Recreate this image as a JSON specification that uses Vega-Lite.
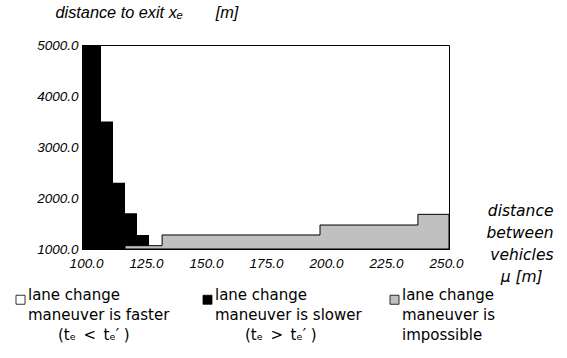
{
  "$schema": "https://vega.github.io/schema/vega-lite/v6.json",
  "width": 367,
  "height": 204,
  "autosize": {"type": "none"},
  "padding": {"left": 82, "top": 45, "right": 118, "bottom": 109},
  "background": "white",
  "config": {
    "view": {"stroke": "black", "strokeWidth": 1},
    "font": "Liberation Sans",
    "style": {"guide-label": {"lineHeight": 20}}
  },
  "datasets": {
    "steps": [
      {"mu": 98.33, "xe": 5000, "kind": "slower"},
      {"mu": 106.25, "xe": 3500, "kind": "slower"},
      {"mu": 111.25, "xe": 2300, "kind": "slower"},
      {"mu": 116.25, "xe": 1700, "kind": "slower"},
      {"mu": 121.25, "xe": 1275, "kind": "slower"},
      {"mu": 126.25, "xe": 1275, "kind": "slower"},
      {"mu": 116.25, "xe": 1065, "kind": "impossible"},
      {"mu": 131.7, "xe": 1275, "kind": "impossible"},
      {"mu": 197.5, "xe": 1470, "kind": "impossible"},
      {"mu": 238.3, "xe": 1680, "kind": "impossible"},
      {"mu": 251.25, "xe": 1680, "kind": "impossible"}
    ]
  },
  "layer": [
    {
      "data": {"name": "steps"},
      "transform": [{"filter": "datum.kind === 'slower'"}],
      "mark": {"type": "area", "interpolate": "step-after", "opacity": 1},
      "encoding": {
        "x": {
          "field": "mu", "type": "quantitative",
          "scale": {"domain": [98.33, 251.25], "nice": false, "zero": false},
          "axis": {
            "values": [100, 125, 150, 175, 200, 225, 250],
            "format": ".1f",
            "grid": false, "ticks": false,
            "domainColor": "black", "domainWidth": 1,
            "labelFont": "Liberation Sans", "labelFontStyle": "italic",
            "labelFontSize": 13.5, "labelColor": "black",
            "labelPadding": 7, "labelFlush": false, "labelOverlap": false,
            "title": ["distance", "between", "vehicles", "μ [m]\u2002\u2009\u200b"],
            "titleFont": "DejaVu Sans", "titleFontStyle": "italic",
            "titleFontWeight": "normal", "titleFontSize": 15.5, "titleColor": "black",
            "titleLineHeight": 22, "titleAlign": "right", "titleBaseline": "alphabetic",
            "titleAngle": 0, "titleX": 471, "titleY": -34
          }
        },
        "y": {
          "field": "xe", "type": "quantitative",
          "scale": {"domain": [1000, 5000], "nice": false, "zero": false},
          "axis": {
            "values": [1000, 2000, 3000, 4000, 5000],
            "format": ".1f",
            "grid": false, "ticks": false,
            "domainColor": "black", "domainWidth": 1,
            "labelFont": "Liberation Sans", "labelFontStyle": "italic",
            "labelFontSize": 13.5, "labelColor": "black",
            "labelPadding": 4, "labelFlush": false, "labelOverlap": false,
            "title": "distance to exit xₑ\u2003\u2003[m]",
            "titleFont": "Liberation Sans", "titleFontStyle": "italic",
            "titleFontWeight": "normal", "titleFontSize": 16.3, "titleColor": "black",
            "titleAngle": 0, "titleAlign": "left", "titleBaseline": "alphabetic",
            "titleX": -27, "titleY": -28
          }
        },
        "y2": {"datum": 1000},
        "color": {
          "field": "kind", "type": "nominal",
          "scale": {"domain": ["faster", "slower", "impossible"], "range": ["white", "black", "#c0c0c0"]},
          "legend": {
            "orient": "none", "legendX": -69, "legendY": 247,
            "direction": "horizontal", "columns": 3, "gridAlign": "all",
            "title": null, "padding": 0,
            "symbolType": "square", "symbolSize": 81,
            "symbolStrokeColor": "black", "symbolStrokeWidth": 0.8, "symbolOpacity": 1,
            "labelFont": "DejaVu Sans", "labelFontSize": 15, "labelColor": "black",
            "labelBaseline": "alphabetic", "labelOffset": 0,
            "labelLimit": 0, "columnPadding": 25,
            "labelExpr": "datum.value === 'faster' ? ['lane change', 'maneuver is faster', '\u200b\u2003\u2003(tₑ\u2002<\u2002tₑ′ )'] : datum.value === 'slower' ? ['lane change', 'maneuver is slower', '\u200b\u2003\u2003(tₑ\u2002>\u2002tₑ′ )'] : ['lane change', 'maneuver is', 'impossible']"
          }
        }
      }
    },
    {
      "data": {"name": "steps"},
      "transform": [{"filter": "datum.kind === 'impossible'"}],
      "mark": {"type": "area", "interpolate": "step-after", "opacity": 1, "stroke": "black", "strokeWidth": 1},
      "encoding": {
        "x": {"field": "mu", "type": "quantitative"},
        "y": {"field": "xe", "type": "quantitative"},
        "y2": {"datum": 1000},
        "color": {"field": "kind", "type": "nominal"}
      }
    },
    {
      "mark": {"type": "rule", "color": "black", "strokeWidth": 1},
      "encoding": {
        "x": {"datum": 98.33},
        "y": {"datum": 5000},
        "y2": {"datum": 5360}
      }
    },
    {
      "mark": {"type": "point", "shape": "M0,-1L0.6,1L-0.6,1Z", "filled": true, "color": "black", "size": 49, "opacity": 1},
      "encoding": {
        "x": {"datum": 98.33},
        "y": {"datum": 5373}
      }
    },
    {
      "mark": {"type": "rule", "color": "black", "strokeWidth": 1},
      "encoding": {
        "x": {"datum": 251.25},
        "x2": {"datum": 262},
        "y": {"datum": 1000}
      }
    },
    {
      "mark": {"type": "point", "shape": "M1,0L-1,-0.6L-1,0.6Z", "filled": true, "color": "black", "size": 49, "opacity": 1},
      "encoding": {
        "x": {"datum": 262.7},
        "y": {"datum": 1000}
      }
    }
  ]
}
